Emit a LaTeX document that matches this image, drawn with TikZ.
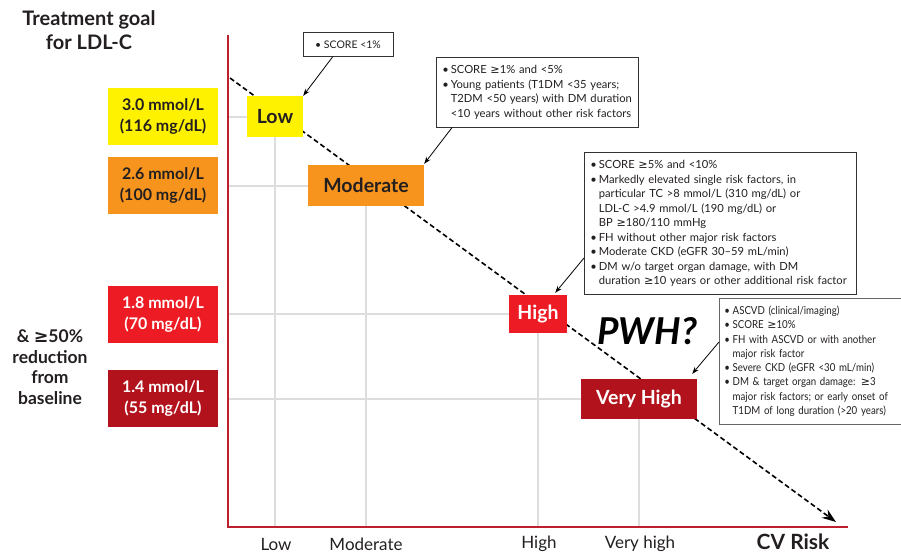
\documentclass[tikz,border=0pt]{standalone}
\usepackage{fontspec}
\setmainfont{Lato}
\newfontfamily\symfont{DejaVu Sans}
\newfontfamily\narrowfont[FakeStretch=0.88]{Lato}
\usetikzlibrary{arrows.meta,backgrounds}
\definecolor{goalyellow}{RGB}{255,242,0}
\definecolor{goalorange}{RGB}{247,148,30}
\definecolor{goalred}{RGB}{237,28,36}
\definecolor{goaldark}{RGB}{178,18,27}
\definecolor{axisred}{RGB}{190,30,45}
\definecolor{gridgray}{RGB}{221,221,221}
\definecolor{textdark}{RGB}{35,31,32}
\newcommand{\gtsign}{{\symfont\char"2265}}
\newcommand{\bitem}[1]{\noindent\hangindent=0.75em\hangafter=1\makebox[0.75em][l]{\textbullet}#1\par}

\begin{document}
\begin{tikzpicture}[
  x=1pt, y=-1pt,
  text=textdark,
  goal/.style={minimum width=110pt, minimum height=57pt, inner sep=0pt,
               align=center, font=\fontsize{16}{21}\selectfont\bfseries},
  risk/.style={minimum height=41pt, inner sep=0pt,
               font=\fontsize{19.5}{22}\selectfont\bfseries},
  note/.style={draw=black!80, line width=0.9pt, fill=white, anchor=north west,
               inner xsep=6pt, inner ysep=8pt,
               font=\fontsize{11.2}{14.5}\selectfont},
  pointer/.style={-{Stealth[length=7pt,width=5pt]}, line width=0.8pt},
  trend/.style={-{Stealth[length=14pt,width=10pt]}, line width=1.6pt,
                dash pattern=on 5pt off 3pt},
  gridline/.style={draw=gridgray, line width=2pt},
  riskaxis/.style={draw=axisred, line width=2.2pt},
  ticklabel/.style={font=\fontsize{17}{20}\selectfont}
]
\useasboundingbox (0,0) rectangle (901,555);
\clip (0,0) rectangle (901,555);

% heading and side note
\node[font=\fontsize{20}{24.5}\selectfont\bfseries, align=center] (title) at (89,30)
  {Treatment goal\\for LDL-C};
\node[font=\fontsize{17.5}{20.5}\selectfont\bfseries, align=center] (reduction) at (50,367)
  {\& \gtsign50\%\\reduction\\from\\baseline};

% LDL-C goals
\node[goal,fill=goalyellow] (goal30) at (163,116.5) {3.0 mmol/L\\(116 mg/dL)};
\node[goal,fill=goalorange] (goal26) at (163,185) {2.6 mmol/L\\(100 mg/dL)};
\node[goal,fill=goalred,text=white] (goal18) at (163,314.5) {1.8 mmol/L\\(70 mg/dL)};
\node[goal,fill=goaldark,text=white] (goal14) at (163,398.5) {1.4 mmol/L\\(55 mg/dL)};

% axes
\coordinate (ytop) at (228,35);
\coordinate (origin) at (228,527);
\coordinate (xend) at (848,527);
\draw[riskaxis] (ytop) -- (origin) -- (xend);

% risk categories
\node[risk,fill=goalyellow,minimum width=56pt] (low) at (275,116.5) {Low};
\node[risk,fill=goalorange,minimum width=116pt] (mod) at (366,185.5) {Moderate};
\node[risk,fill=goalred,text=white,minimum width=58pt,minimum height=38pt] (high) at (538,314) {High};
\node[risk,fill=goaldark,text=white,minimum width=116pt,minimum height=40pt] (vhigh) at (639,399) {Very High};

\node[font=\fontsize{37}{40}\selectfont\bfseries\itshape, text=black] (pwh) at (647,331) {PWH?};

\node[ticklabel] (tlow) at (276,544) {Low};
\node[ticklabel] (tmod) at (366,544) {Moderate};
\node[ticklabel] (thigh) at (539,544) {High};
\node[ticklabel] (tvhigh) at (640,544) {Very high};
\node[font=\fontsize{21}{24}\selectfont\bfseries] (cvrisk) at (793,542) {CV Risk};

\begin{pgfonlayer}{background}
\foreach \r in {low,mod,high,vhigh} {
  \draw[gridline] (\r.south) -- (\r.south |- origin);
  \draw[gridline] (\r.west) -- (\r.west -| origin);
}
\coordinate (trendstart) at (230,78);
\coordinate (trendend) at (836,522);
\draw[trend] (trendstart) -- (trendend);
\end{pgfonlayer}

% criteria
\node[note,anchor=center,font=\fontsize{10.5}{12}\selectfont,
      minimum width=90pt,minimum height=24pt,inner ysep=0pt] (note1) at (348,44.5)
  {\textbullet\ SCORE <1\%};
\node[note,text width=190pt] (note2) at (436,57)
  {\bitem{SCORE \gtsign1\% and <5\%}
   \bitem{Young patients (T1DM <35 years;\newline T2DM <50 years) with DM duration\newline <10 years without other risk factors}};
\node[note,text width=260pt] (note3) at (584,152)
  {\bitem{SCORE \gtsign5\% and <10\%}
   \bitem{Markedly elevated single risk factors, in\newline particular TC >8 mmol/L (310 mg/dL) or\newline LDL-C >4.9 mmol/L (190 mg/dL) or\newline BP \gtsign180/110 mmHg}
   \bitem{FH without other major risk factors}
   \bitem{Moderate CKD (eGFR 30–59 mL/min)}
   \bitem{DM w/o target organ damage, with DM\newline duration \gtsign10 years or other additional risk factor}};
\node[note,draw=black!60,text width=190pt,inner xsep=5pt,inner ysep=7.5pt,
      font=\fontsize{11}{14.3}\selectfont\narrowfont] (note4) at (719,298)
  {\bitem{ASCVD (clinical/imaging)}
   \bitem{SCORE \gtsign10\%}
   \bitem{FH with ASCVD or with another\newline major risk factor}
   \bitem{Severe CKD (eGFR <30 mL/min)}
   \bitem{DM \& target organ damage: \gtsign3\newline major risk factors; or early onset of\newline T1DM of long duration (>20 years)}};

\draw[pointer] ([xshift=30pt]note1.south west) -- (low.north east);
\draw[pointer] ([xshift=16pt]note2.south west) -- ([yshift=1pt]mod.north east);
\draw[pointer] ([yshift=-106pt]note3.north west) -- ([xshift=-12pt,yshift=2pt]high.north east);
\draw[pointer] ([yshift=-44pt]note4.north west) -- ([xshift=-5pt,yshift=5pt]vhigh.north east);
\end{tikzpicture}
\end{document}
